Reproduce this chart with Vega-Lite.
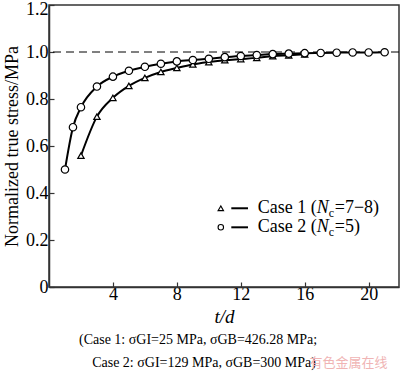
{
  "$schema": "https://vega.github.io/schema/vega-lite/v6.json",
  "width": 350,
  "height": 282,
  "autosize": "none",
  "padding": {"left": 49, "top": 5, "right": 1, "bottom": 88},
  "background": "white",
  "config": {
    "font": "Liberation Serif",
    "view": {"stroke": "#333333", "strokeWidth": 1.5}
  },
  "datasets": {
    "curves": [
      {"case": "Case 1", "x": 2, "y": 0.559},
      {"case": "Case 1", "x": 3, "y": 0.725},
      {"case": "Case 1", "x": 4, "y": 0.805},
      {"case": "Case 1", "x": 5, "y": 0.856},
      {"case": "Case 1", "x": 6, "y": 0.89},
      {"case": "Case 1", "x": 7, "y": 0.915},
      {"case": "Case 1", "x": 8, "y": 0.932},
      {"case": "Case 1", "x": 9, "y": 0.947},
      {"case": "Case 1", "x": 10, "y": 0.957},
      {"case": "Case 1", "x": 11, "y": 0.965},
      {"case": "Case 1", "x": 12, "y": 0.97},
      {"case": "Case 1", "x": 13, "y": 0.975},
      {"case": "Case 1", "x": 14, "y": 0.982},
      {"case": "Case 1", "x": 15, "y": 0.986},
      {"case": "Case 1", "x": 16, "y": 0.99},
      {"case": "Case 2", "x": 1, "y": 0.5},
      {"case": "Case 2", "x": 1.5, "y": 0.68},
      {"case": "Case 2", "x": 2, "y": 0.765},
      {"case": "Case 2", "x": 3, "y": 0.853},
      {"case": "Case 2", "x": 4, "y": 0.895},
      {"case": "Case 2", "x": 5, "y": 0.92},
      {"case": "Case 2", "x": 6, "y": 0.937},
      {"case": "Case 2", "x": 7, "y": 0.95},
      {"case": "Case 2", "x": 8, "y": 0.96},
      {"case": "Case 2", "x": 9, "y": 0.966},
      {"case": "Case 2", "x": 10, "y": 0.971},
      {"case": "Case 2", "x": 11, "y": 0.978},
      {"case": "Case 2", "x": 12, "y": 0.983},
      {"case": "Case 2", "x": 13, "y": 0.987},
      {"case": "Case 2", "x": 14, "y": 0.991},
      {"case": "Case 2", "x": 15, "y": 0.993},
      {"case": "Case 2", "x": 16, "y": 0.995},
      {"case": "Case 2", "x": 17, "y": 0.996},
      {"case": "Case 2", "x": 18, "y": 0.997},
      {"case": "Case 2", "x": 19, "y": 0.998},
      {"case": "Case 2", "x": 20, "y": 0.998},
      {"case": "Case 2", "x": 21, "y": 0.999}
    ],
    "legend": [
      {"case": "Case 1", "x": 10.75, "xb": 12.45, "y": 0.335, "pre": "Case 1 (", "post": "=7−8)"},
      {"case": "Case 2", "x": 10.75, "xb": 12.45, "y": 0.254, "pre": "Case 2 (", "post": "=5)"}
    ],
    "notes": [
      {"x": 1.875, "y": -0.225, "label": "(Case 1: σGI=25 MPa, σGB=426.28 MPa;"},
      {"x": 2.7, "y": -0.322, "label": "Case 2: σGI=129 MPa, σGB=300 MPa)"}
    ],
    "mark": [
      {"x": 16.3, "y": -0.322, "label": "有色金属在线"}
    ]
  },
  "layer": [
    {
      "data": {"name": "curves"},
      "mark": {"type": "line", "interpolate": "monotone", "color": "black", "strokeWidth": 2},
      "encoding": {
        "x": {
          "field": "x", "type": "quantitative",
          "scale": {"domain": [0, 21.9], "nice": false, "zero": false},
          "axis": {
            "title": "t/d", "titleFontStyle": "italic", "titleFontWeight": "normal", "titleFontSize": 19, "titleColor": "black",
            "titlePadding": 4,
            "values": [4, 8, 12, 16, 20], "labelFontSize": 18, "labelColor": "black", "labelPadding": 3,
            "tickSize": -5, "tickColor": "#333333", "domainColor": "#333333", "domainWidth": 1.5, "tickWidth": 1.2,
            "grid": false, "labelFlush": false
          }
        },
        "y": {
          "field": "y", "type": "quantitative",
          "scale": {"domain": [0, 1.2], "nice": false},
          "axis": {
            "title": "Normalized true stress/MPa", "titleFontWeight": "normal", "titleFontSize": 18, "titleColor": "black",
            "titlePadding": 4,
            "values": [0, 0.2, 0.4, 0.6, 0.8, 1.0, 1.2],
            "labelExpr": "datum.value == 0 ? '0' : format(datum.value, '.1f')",
            "labelOffset": {"condition": {"test": "datum.value > 1.1", "value": 4}, "value": 0},
            "labelFontSize": 18, "labelColor": "black", "labelPadding": 6,
            "tickSize": -5, "tickColor": "#333333", "domainColor": "#333333", "domainWidth": 1.5, "tickWidth": 1.2,
            "grid": false, "labelFlush": false
          }
        },
        "detail": {"field": "case", "type": "nominal"}
      }
    },
    {
      "data": {"values": [{"y": 1}]},
      "mark": {"type": "rule", "color": "black", "strokeWidth": 1, "strokeDash": [8, 5]},
      "encoding": {
        "y": {"field": "y", "type": "quantitative"}
      }
    },
    {
      "data": {"name": "curves"},
      "mark": {"type": "point", "filled": false, "fill": "white", "fillOpacity": 1, "stroke": "black", "strokeWidth": 1.2, "opacity": 1},
      "encoding": {
        "x": {"field": "x", "type": "quantitative"},
        "y": {"field": "y", "type": "quantitative"},
        "shape": {"field": "case", "type": "nominal", "scale": {"domain": ["Case 1", "Case 2"], "range": ["triangle-up", "circle"]}, "legend": null},
        "size": {"field": "case", "type": "nominal", "scale": {"domain": ["Case 1", "Case 2"], "range": [40, 55]}, "legend": null}
      }
    },
    {
      "data": {"name": "legend"},
      "mark": {"type": "point", "filled": false, "fill": "white", "fillOpacity": 1, "stroke": "black", "strokeWidth": 1.1, "opacity": 1},
      "encoding": {
        "x": {"field": "x", "type": "quantitative"},
        "y": {"field": "y", "type": "quantitative"},
        "shape": {"field": "case", "type": "nominal", "legend": null},
        "size": {"value": 30}
      }
    },
    {
      "data": {"name": "legend"},
      "mark": {"type": "rule", "color": "black", "strokeWidth": 2, "xOffset": 10.5, "x2Offset": 0},
      "encoding": {
        "x": {"field": "x", "type": "quantitative"},
        "x2": {"field": "xb"},
        "y": {"field": "y", "type": "quantitative"}
      }
    },
    {
      "data": {"name": "legend"},
      "mark": {"type": "text", "align": "left", "baseline": "middle", "fontSize": 18, "color": "black", "dx": 37},
      "encoding": {
        "x": {"field": "x", "type": "quantitative"},
        "y": {"field": "y", "type": "quantitative"},
        "text": {"field": "pre"}
      }
    },
    {
      "data": {"name": "legend"},
      "mark": {"type": "text", "align": "left", "baseline": "middle", "fontSize": 18, "fontStyle": "italic", "color": "black", "dx": 96},
      "encoding": {
        "x": {"field": "x", "type": "quantitative"},
        "y": {"field": "y", "type": "quantitative"},
        "text": {"value": "N"}
      }
    },
    {
      "data": {"name": "legend"},
      "mark": {"type": "text", "align": "left", "baseline": "middle", "fontSize": 12, "color": "black", "dx": 108, "dy": 5},
      "encoding": {
        "x": {"field": "x", "type": "quantitative"},
        "y": {"field": "y", "type": "quantitative"},
        "text": {"value": "c"}
      }
    },
    {
      "data": {"name": "legend"},
      "mark": {"type": "text", "align": "left", "baseline": "middle", "fontSize": 18, "color": "black", "dx": 114},
      "encoding": {
        "x": {"field": "x", "type": "quantitative"},
        "y": {"field": "y", "type": "quantitative"},
        "text": {"field": "post"}
      }
    },
    {
      "data": {"name": "notes"},
      "mark": {"type": "text", "align": "left", "baseline": "middle", "fontSize": 14, "color": "black", "clip": false},
      "encoding": {
        "x": {"field": "x", "type": "quantitative"},
        "y": {"field": "y", "type": "quantitative"},
        "text": {"field": "label"}
      }
    },
    {
      "data": {"name": "mark"},
      "mark": {"type": "text", "align": "left", "baseline": "middle", "fontSize": 13, "font": "Noto Sans CJK SC", "color": "#f0b4b4", "clip": false},
      "encoding": {
        "x": {"field": "x", "type": "quantitative"},
        "y": {"field": "y", "type": "quantitative"},
        "text": {"field": "label"}
      }
    }
  ]
}
